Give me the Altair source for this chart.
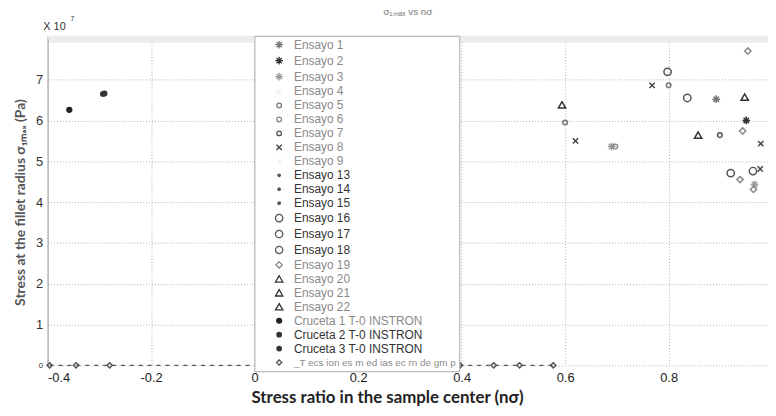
import altair as alt
import pandas as pd

# ---------------- data ----------------
series = ["Ensayo 1", "Ensayo 2", "Ensayo 3", "Ensayo 4", "Ensayo 5", "Ensayo 6",
          "Ensayo 7", "Ensayo 8", "Ensayo 9", "Ensayo 13", "Ensayo 14", "Ensayo 15",
          "Ensayo 16", "Ensayo 17", "Ensayo 18", "Ensayo 19", "Ensayo 20",
          "Ensayo 21", "Ensayo 22", "Cruceta 1 T-0 INSTRON", "Cruceta 2 T-0 INSTRON",
          "Cruceta 3 T-0 INSTRON", "_T ecs ion es m ed ias ec rn de gm p"]

pt_series = ["Ensayo 1", "Ensayo 2", "Ensayo 3", "Ensayo 3",
             "Ensayo 5", "Ensayo 5", "Ensayo 6", "Ensayo 7",
             "Ensayo 8", "Ensayo 8", "Ensayo 8", "Ensayo 8",
             "Ensayo 16", "Ensayo 16", "Ensayo 17", "Ensayo 18",
             "Ensayo 19", "Ensayo 19", "Ensayo 19", "Ensayo 19",
             "Ensayo 20", "Ensayo 21", "Ensayo 22",
             "Cruceta 1 T-0 INSTRON", "Cruceta 2 T-0 INSTRON", "Cruceta 3 T-0 INSTRON"]
pt_n = [0.892, 0.950, 0.966, 0.690,
        0.800, 0.600, 0.697, 0.899,
        0.768, 0.620, 0.978, 0.977,
        0.798, 0.836, 0.920, 0.963,
        0.953, 0.943, 0.938, 0.964,
        0.594, 0.947, 0.857,
        -0.358, -0.293, -0.290]
pt_s = [6.52, 6.00, 4.43, 5.36,
        6.86, 5.95, 5.36, 5.64,
        6.86, 5.50, 5.43, 4.81,
        7.19, 6.55, 4.71, 4.76,
        7.70, 5.74, 4.55, 4.31,
        6.38, 6.57, 5.64,
        6.26, 6.65, 6.66]

mean_name = "_T ecs ion es m ed ias ec rn de gm p"
mean_n = [-0.396, -0.345, -0.280, 0.328, 0.366, 0.383, 0.397, 0.462, 0.512, 0.577]
mean_s = [0, 0, 0, 0, 0, 0, 0, 0, 0, 0]

x_ticks = [-0.4, -0.2, 0, 0.2, 0.4, 0.6, 0.8]
y_ticks = [0, 1, 2, 3, 4, 5, 6, 7]
top_ticks = [round(-0.4 + 0.05 * i, 2) for i in range(28)]

# ---------------- styles ----------------
AST = "M-1,0L1,0M0,-1L0,1M-0.7,-0.7L0.7,0.7M-0.7,0.7L0.7,-0.7"
XS = "M-0.8,-0.8L0.8,0.8M-0.8,0.8L0.8,-0.8"
shapes = [AST, AST, AST, XS, "circle", "circle", "circle", XS, XS,
          "circle", "circle", "circle", "circle", "circle", "circle",
          "diamond", "triangle-up", "triangle-up", "triangle-up",
          "circle", "circle", "circle", "diamond"]
colors = ["#777777", "#333333", "#999999", "#eeeeee", "#777777", "#888888",
          "#555555", "#444444", "#eeeeee", "#555555", "#555555", "#555555",
          "#555555", "#555555", "#555555", "#888888", "#333333", "#333333",
          "#333333", "#222222", "#333333", "#333333", "#555555"]
fills = ["transparent"] * 9 + ["#555555"] * 3 + ["transparent"] * 7 + \
        ["#222222", "#333333", "#333333", "transparent"]
sizes = [60, 60, 60, 35, 22, 22, 22, 45, 35, 6, 6, 6, 55, 55, 55,
         40, 55, 55, 55, 24, 20, 20, 28]

pts = pd.DataFrame({"n": pt_n, "s": pt_s, "series": pt_series})
means = pd.DataFrame({"n": mean_n, "s": mean_s, "series": [mean_name] * len(mean_n)})
allpts = pd.concat([pts, means], ignore_index=True)

dark = ["Ensayo 13", "Ensayo 14", "Ensayo 15", "Ensayo 16", "Ensayo 17",
        "Ensayo 18", "Cruceta 2 T-0 INSTRON", "Cruceta 3 T-0 INSTRON"]
dark_expr = "indexof([" + ",".join("'%s'" % d for d in dark) + "], datum.label) >= 0 ? '#333333' : '#8a8a8a'"
fs_expr = "datum.label == '%s' ? 10 : 12" % mean_name

leg = alt.Legend(title=None, orient="none", legendX=209, legendY=-3,
                 fillColor="white", strokeColor="#aaaaaa", padding=3,
                 symbolOffset=16, labelOffset=9, labelFont="Liberation Sans",
                 labelFontSize=alt.ExprRef(fs_expr), labelColor=alt.ExprRef(dark_expr),
                 rowPadding=2.1, symbolStrokeWidth=1.3, labelLimit=200,
                 symbolLimit=40)

X = alt.X("n:Q", scale=alt.Scale(domain=[-0.4, 0.992], nice=False, zero=False),
          axis=alt.Axis(values=x_ticks, title="Stress ratio in the sample center (nσ)",
                        labelExpr="datum.value + ''", domain=False, ticks=False,
                        labelPadding=6, labelFontSize=13, labelColor="#222222",
                        labelFont="Liberation Sans", grid=True, gridDash=[1, 2],
                        gridColor="#b0b0b0", titleFont="Lato", titleFontSize=17,
                        titleFontWeight="bold", titleColor="#222222",
                        titleX=343, titleY=33, titleBaseline="middle"))
Y = alt.Y("s:Q", scale=alt.Scale(domain=[0, 8], nice=False),
          axis=alt.Axis(values=y_ticks, title="Stress at the fillet radius σ₁ₘₐₓ (Pa)",
                        domain=True, domainColor="#999999", ticks=False, labelPadding=5,
                        labelFont="Liberation Sans",
                        labelFontSize={"condition": {"test": "datum.value == 0", "value": 8},
                                       "value": 13},
                        labelColor="#333333", grid=True, gridDash=[1, 2],
                        gridColor="#b0b0b0", titleFont="Lato", titleFontSize=14,
                        titleFontWeight="bold", titleColor="#555555", titlePadding=8))

sc = dict(domain=series)
points = alt.Chart(allpts).mark_point(filled=False, strokeWidth=1.5, opacity=1).encode(
    x=X, y=Y,
    color=alt.Color("series:N", scale=alt.Scale(range=colors, **sc), legend=leg, sort=series),
    shape=alt.Shape("series:N", scale=alt.Scale(range=shapes, **sc), legend=leg, sort=series),
    fill=alt.Fill("series:N", scale=alt.Scale(range=fills, **sc), legend=leg, sort=series),
    size=alt.Size("series:N", scale=alt.Scale(type="ordinal", range=sizes, **sc),
                  legend=leg, sort=series),
)

line = alt.Chart(means).mark_line(strokeDash=[4, 5], strokeWidth=1.2, color="#555555").encode(
    x=alt.X("n:Q", axis=None), y=alt.Y("s:Q"))

top = alt.Chart(pd.DataFrame({"n": [0.0]})).mark_tick(opacity=0).encode(
    x=alt.X("n:Q", axis=alt.Axis(orient="top", values=top_ticks, labels=False,
                                 domain=True, domainColor="#ececec", domainWidth=7,
                                 ticks=True, tickColor="#9a9a9a", tickSize=3,
                                 grid=False, title=None)),
)

exp_df = pd.DataFrame({"t": ["X 10"]})
exp_txt = alt.Chart(exp_df).mark_text(fontSize=11, font="Liberation Sans",
                                      color="#333333").encode(
    text="t:N", x=alt.value(7), y=alt.value(-12))
sup_df = pd.DataFrame({"t": ["7"]})
sup_txt = alt.Chart(sup_df).mark_text(fontSize=7, font="Liberation Sans",
                                      color="#333333").encode(
    text="t:N", x=alt.value(25), y=alt.value(-20))

chart = alt.layer(line, points, top, exp_txt, sup_txt).resolve_scale(
    x="shared").resolve_axis(x="independent").properties(
    width=728, height=330,
    autosize=alt.AutoSizeParams(type="none"),
    padding={"left": 40, "top": 29, "right": 0, "bottom": 41},
    title=alt.TitleParams("σ₁ₘₐₓ vs nσ", fontSize=10, color="#777777",
                          font="Liberation Sans", fontWeight="normal", offset=0, dy=2),
).configure_view(stroke=None)

chart.save("out.html", embed_options={"renderer": "svg", "actions": False})
